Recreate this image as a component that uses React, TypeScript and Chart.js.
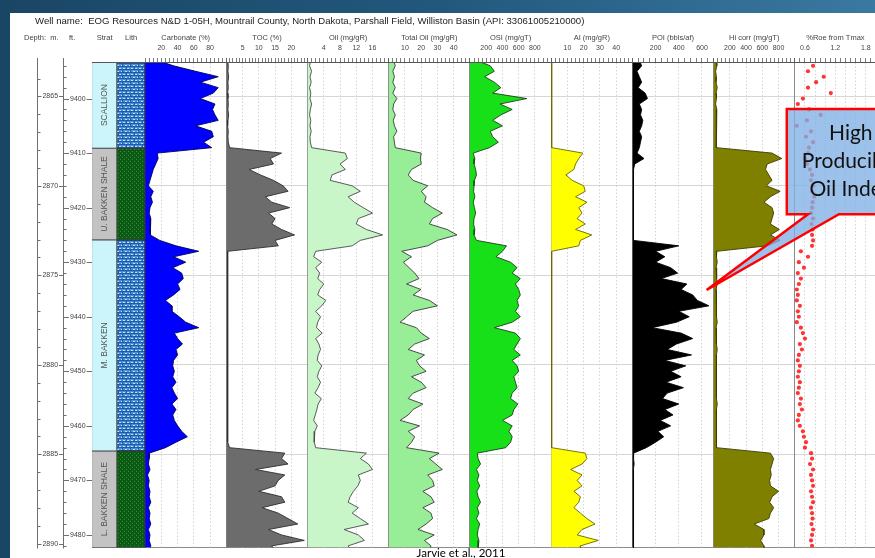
import React, { useEffect, useRef } from "react";
import { Chart, registerables } from "chart.js";

Chart.register(...registerables);

const FONT = '"Liberation Sans", Arial, Helvetica, sans-serif';
const CALLOUT_FONT = 'Lato, "Open Sans", sans-serif';

// ---------------- data ----------------
const DEPTH_TOP_FT = 9393.3;
const DEPTH_BASE_FT = 9482.3;
const FT_PER_M = 3.28084;

const depthsFt = [
  9393, 9394, 9395, 9396, 9397, 9398, 9399, 9400, 9401, 9402,
  9403, 9404, 9405, 9406, 9407, 9408, 9409, 9410, 9411, 9412,
  9413, 9414, 9415, 9416, 9417, 9418, 9419, 9420, 9421, 9422,
  9423, 9424, 9425, 9426, 9427, 9428, 9429, 9430, 9431, 9432,
  9433, 9434, 9435, 9436, 9437, 9438, 9439, 9440, 9441, 9442,
  9443, 9444, 9445, 9446, 9447, 9448, 9449, 9450, 9451, 9452,
  9453, 9454, 9455, 9456, 9457, 9458, 9459, 9460, 9461, 9462,
  9463, 9464, 9465, 9466, 9467, 9468, 9469, 9470, 9471, 9472,
  9473, 9474, 9475, 9476, 9477, 9478, 9479, 9480, 9481, 9482, 9483,
];

const carbonatePct = [
  15, 35, 62, 90, 68, 90, 84, 68, 86, 83,
  86, 90, 62, 82, 84, 72, 82, 15, 16, 13,
  10, 8, 6, 4, 10, 7, 9, 6, 5, 7,
  6, 6, 7, 18, 38, 66, 35, 50, 34, 45,
  47, 40, 43, 35, 25, 33, 33, 42, 50, 66,
  36, 40, 46, 38, 40, 35, 34, 36, 34, 38,
  33, 36, 40, 33, 38, 34, 36, 40, 45, 52,
  38, 25, 5, 5, 4, 6, 3, 5, 4, 6,
  5, 7, 4, 6, 5, 7, 4, 6, 5, 7, 5,
];

const tocPct = [
  0.4, 0.6, 0.5, 0.7, 0.5, 0.6, 0.4, 0.5, 0.6, 0.5,
  0.7, 0.5, 0.4, 0.6, 0.5, 0.6, 1, 17, 13.5, 14.5,
  7, 10.5, 14.5, 17.5, 19, 12, 14, 19.5, 13, 15,
  14, 17, 21, 15, 16, 0.4, 0.5, 0.3, 0.5, 0.4,
  0.5, 0.3, 0.4, 0.5, 0.4, 0.3, 0.5, 0.4, 0.3, 0.4,
  0.5, 0.4, 0.3, 0.4, 0.5, 0.3, 0.4, 0.5, 0.4, 0.3,
  0.4, 0.5, 0.3, 0.4, 0.5, 0.4, 0.3, 0.4, 0.5, 0.4,
  0.5, 1, 18, 17, 19, 9, 18, 16, 15, 10,
  17, 18, 11, 16, 19, 22, 13, 17, 24, 14, 15,
];

const oilMgGR = [
  0.8, 0.5, 1.0, 0.6, 0.9, 0.5, 0.8, 0.6, 1.0, 0.7,
  0.5, 0.8, 0.6, 0.9, 0.6, 0.7, 1.0, 9.3, 9.8, 8,
  9.3, 6, 5.6, 11, 13, 10, 11.5, 13.7, 16, 12.5,
  12, 14.5, 18.5, 13, 11, 2.0, 1.5, 3.5, 2, 3,
  2.5, 4, 3, 2.5, 4.5, 3.5, 2, 3.2, 2.5, 2.2,
  3.6, 2.0, 2.8, 3.2, 2.6, 2.4, 3.5, 2.8, 2.4, 3.2,
  2.6, 1.8, 3.4, 2.6, 2.3, 1.9, 1.5, 2.4, 1.8, 1.6,
  1.7, 2.0, 14.5, 13, 15, 16, 12.5, 13, 12.4, 11.3,
  10.5, 10, 12.5, 11, 13, 15, 9, 12.5, 14, 10, 11,
];

const totalOilMgGR = [
  3, 4, 2.5, 3.5, 2.5, 4, 2.5, 5, 3, 2.5,
  4, 2.8, 3.5, 5, 3, 3.5, 4, 20, 19.5, 20,
  14, 12, 15, 24, 20, 23, 22, 27, 33, 27,
  25, 36, 42, 30, 24, 8, 14, 9, 12.5, 16,
  18.6, 11, 19.8, 15, 25, 30, 15, 11, 7, 17,
  20, 25, 16, 12, 22, 17, 19, 23, 14, 20,
  23, 15, 12, 21, 15, 12, 7, 19, 12, 16,
  14, 11, 31, 25, 29, 33, 24, 27, 28, 21,
  26, 28, 21, 26, 27, 23, 18, 28, 22, 26, 25,
];

const osiMgGT = [
  80, 250, 300, 180, 300, 380, 280, 700, 370, 520,
  380, 280, 400, 250, 280, 350, 240, 40, 60, 50,
  70, 80, 55, 50, 45, 60, 40, 55, 70, 50,
  45, 60, 50, 80, 450, 400, 320, 500, 580, 520,
  620, 560, 600, 620, 580, 600, 560, 620, 520, 300,
  560, 620, 580, 540, 620, 520, 580, 600, 540, 560,
  580, 520, 500, 590, 540, 520, 400, 520, 480, 520,
  500, 440, 90, 100, 130, 80, 110, 90, 120, 85,
  100, 130, 90, 110, 80, 120, 100, 90, 110, 100, 100,
];

const aiMgGR = [
  0.3, 0.3, 0.3, 0.3, 0.3, 0.3, 0.3, 0.3, 0.3, 0.3,
  0.3, 0.3, 0.3, 0.3, 0.3, 0.3, 0.5, 19.5, 17, 15,
  14, 9, 13, 20, 21, 15, 22, 17, 19, 16,
  21, 15, 25, 18, 17, 0.3, 0.3, 0.3, 0.3, 0.3,
  0.3, 0.3, 0.3, 0.3, 0.3, 0.3, 0.3, 0.3, 0.3, 0.3,
  0.3, 0.3, 0.3, 0.3, 0.3, 0.3, 0.3, 0.3, 0.3, 0.3,
  0.3, 0.3, 0.3, 0.3, 0.3, 0.3, 0.3, 0.3, 0.3, 0.3,
  0.3, 0.5, 21, 22, 19, 12, 19, 16, 19, 14,
  18, 17, 14, 18, 22, 27, 19, 16, 29, 18, 18,
];

const poiBblsAf = [
  60, 80, 40, 60, 80, 50, 110, 130, 60, 80,
  70, 90, 80, 60, 80, 70, 60, 40, 100, 20,
  10, 10, 8, 12, 10, 8, 10, 12, 8, 10,
  8, 10, 8, 10, 400, 200, 280, 200, 330, 390,
  250, 470, 420, 520, 560, 660, 400, 490, 380, 170,
  420, 520, 380, 300, 510, 280, 460, 330, 420, 290,
  440, 300, 260, 400, 280, 350, 240, 330, 220, 270,
  200, 120, 10, 10, 15, 8, 12, 10, 8, 12,
  10, 8, 12, 10, 8, 10, 12, 8, 10, 8, 10,
];

const hiCorrMgGT = [
  30, 40, 25, 35, 30, 45, 30, 35, 25, 40,
  30, 35, 40, 30, 35, 30, 40, 720, 840, 660,
  640, 680, 720, 650, 820, 700, 620, 720, 740, 720,
  700, 810, 700, 820, 660, 40, 35, 45, 30, 40,
  35, 45, 30, 40, 35, 30, 40, 35, 45, 30,
  40, 35, 30, 45, 35, 40, 30, 35, 40, 30,
  35, 40, 30, 45, 35, 40, 30, 35, 40, 35,
  30, 40, 700, 740, 720, 700, 710, 690, 700, 800,
  720, 690, 740, 700, 680, 500, 620, 620, 580, 620, 620,
];

const roeFromTmax = [
  0.78, 0.76, 0.66, 0.97, 0.82, 0.66, 1.11, 0.56, 0.46, 0.68,
  0.91, 0.64, 0.44, 0.72, 0.62, 0.76, 0.68, 0.66, 0.60, 0.64,
  0.70, 0.74, 0.72, 0.76, 0.74, 0.78, 0.75, 0.74, 0.72, 0.76,
  0.73, 0.75, 0.74, 0.76, 0.74, 0.52, 0.66, 0.48, 0.58, 0.46,
  0.52, 0.48, 0.44, 0.46, 0.44, 0.50, 0.46, 0.48, 0.44, 0.52,
  0.56, 0.60, 0.50, 0.54, 0.48, 0.46, 0.50, 0.48, 0.46, 0.50,
  0.48, 0.46, 0.52, 0.50, 0.54, 0.48, 0.46, 0.50, 0.56, 0.58,
  0.62, 0.60, 0.72, 0.74, 0.70, 0.76, 0.72, 0.74, 0.76, 0.72,
  0.74, 0.76, 0.72, 0.74, 0.75, 0.73, 0.76, 0.74, 0.72, 0.74, 0.73,
];

const stratNames = ["SCALLION", "U. BAKKEN SHALE", "M. BAKKEN", "L. BAKKEN SHALE"];
const stratTopsFt = [9393.3, 9409.1, 9425.9, 9464.6];
const stratBasesFt = [9409.1, 9425.9, 9464.6, 9482.3];
const lithTypes = ["carbonate", "shale", "carbonate", "shale"];

const meterLabels = [2865, 2870, 2875, 2880, 2885, 2890];
const footLabels = [9400, 9410, 9420, 9430, 9440, 9450, 9460, 9470, 9480];

const carbonateTicks = [20, 40, 60, 80];
const tocTicks = [5, 10, 15, 20];
const oilTicks = [4, 8, 12, 16];
const totalOilTicks = [10, 20, 30, 40];
const osiTicks = [200, 400, 600, 800];
const aiTicks = [10, 20, 30, 40];
const poiTicks = [200, 400, 600];
const hiCorrTicks = [200, 400, 600, 800];
const roeTicks = [0.6, 1.2, 1.8];

const wellTitle =
  "Well name:  EOG Resources N&D 1-05H, Mountrail County, North Dakota, Parshall Field, Williston Basin (API: 33061005210000)";
const depthHeader = "Depth:  m.     ft.";
const calloutLines = ["High", "Producible", "Oil Index"];
const calloutTipPoi = 640;
const calloutTipDepth = 9435.1;
const calloutBoxDepths = [9401.9, 9421.2];
const calloutBaseRoe = [0.66, 1.27];
const citation = "Jarvie et al., 2011";

// ---------------- track table ----------------
type Track = {
  id: string; title: string; min: number; max: number; minor: number; grid: number;
  labels: number[]; values: number[]; fill: string; line: string; points?: boolean;
};

const tracks: Track[] = [
  { id: "carb", title: "Carbonate (%)", min: 0, max: 100, minor: 5, grid: 20, labels: carbonateTicks, values: carbonatePct, fill: "#0000ff", line: "#00005a" },
  { id: "toc", title: "TOC (%)", min: 0, max: 25, minor: 1, grid: 5, labels: tocTicks, values: tocPct, fill: "#6c6c6c", line: "#2e2e2e" },
  { id: "oil", title: "Oil (mg/gR)", min: 0, max: 20, minor: 1, grid: 4, labels: oilTicks, values: oilMgGR, fill: "#c9f6c9", line: "#4a4a4a" },
  { id: "toil", title: "Total Oil (mg/gR)", min: 0, max: 50, minor: 2.5, grid: 10, labels: totalOilTicks, values: totalOilMgGR, fill: "#97ee97", line: "#3a3a3a" },
  { id: "osi", title: "OSI (mg/gT)", min: 0, max: 1000, minor: 50, grid: 200, labels: osiTicks, values: osiMgGT, fill: "#18e018", line: "#1e3e1e" },
  { id: "ai", title: "AI (mg/gR)", min: 0, max: 50, minor: 2.5, grid: 10, labels: aiTicks, values: aiMgGR, fill: "#ffff00", line: "#666600" },
  { id: "poi", title: "POI (bbls/af)", min: 0, max: 700, minor: 50, grid: 200, labels: poiTicks, values: poiBblsAf, fill: "#000000", line: "#000000" },
  { id: "hic", title: "Hi corr (mg/gT)", min: 0, max: 1000, minor: 50, grid: 200, labels: hiCorrTicks, values: hiCorrMgGT, fill: "#808000", line: "#3c3c00" },
  { id: "roe", title: "%Roe from Tmax", min: 0.4, max: 2.0, minor: 0.1, grid: 0.2, labels: roeTicks, values: roeFromTmax, fill: "rgba(0,0,0,0)", line: "#ff3434", points: true },
];

const CANVAS_W = 870;
const CANVAS_H = 545;
const HEADER_H = 29;
const TRACK_W = 81.11;
const near = (a: number, b: number) => Math.abs(a - b) < 1e-6;

function fixHeader(s: any) {
  s.height = HEADER_H;
  s.paddingLeft = 0;
  s.paddingRight = 0;
}

function trackScale(t: Track) {
  const isEdge = (v: number) => near(v, t.min) || near(v, t.max);
  const isGrid = (v: number) => {
    const k = v / t.grid;
    return near(k, Math.round(k));
  };
  return {
    type: "linear",
    axis: "x",
    position: "top",
    stack: "cols",
    stackWeight: TRACK_W,
    min: t.min,
    max: t.max,
    afterBuildTicks: (s: any) => {
      const n = Math.round((t.max - t.min) / t.minor);
      const arr: { value: number }[] = [];
      for (let i = 0; i <= n; i++) arr.push({ value: +(t.min + i * t.minor).toFixed(4) });
      s.ticks = arr;
    },
    afterFit: fixHeader,
    ticks: {
      autoSkip: false,
      maxRotation: 0,
      minRotation: 0,
      padding: 6,
      color: "#444",
      font: { family: FONT, size: 7 },
      callback: (v: number) => (t.labels.some((l) => near(l, v)) ? String(v) : ""),
    },
    grid: {
      color: (c: any) => {
        const v = c.tick ? c.tick.value : NaN;
        if (isEdge(v)) return "#8a8a8a";
        if (isGrid(v)) return "#d4d4d4";
        return "rgba(0,0,0,0)";
      },
      lineWidth: 1,
      tickColor: "#5a5a5a",
      tickLength: 4,
      tickWidth: 0.8,
    },
    border: {
      display: true,
      color: "#555",
      width: 1,
      z: 1,
      dash: (c: any) => (c.tick && !isEdge(c.tick.value) ? [1.5, 2] : []),
    },
    title: {
      display: true,
      text: t.title,
      color: "#444",
      font: { family: FONT, size: 7.5 },
      padding: { top: 0, bottom: 0 },
    },
  };
}

function columnScale(title: string, weight: number, edges: boolean) {
  return {
    type: "linear",
    axis: "x",
    position: "top",
    stack: "cols",
    stackWeight: weight,
    min: 0,
    max: 1,
    afterBuildTicks: (s: any) => {
      s.ticks = [{ value: 0 }, { value: 1 }];
    },
    afterFit: fixHeader,
    ticks: { display: false },
    grid: { display: edges, color: "#555", drawTicks: false },
    border: { display: edges, color: "#555", z: 1 },
    title: {
      display: title.length > 0,
      text: title,
      color: "#444",
      font: { family: FONT, size: 7.5 },
      padding: { top: 0, bottom: 0 },
    },
  };
}

function makeCarbonatePattern(ctx: CanvasRenderingContext2D) {
  const c = document.createElement("canvas");
  c.width = 8;
  c.height = 6;
  const g = c.getContext("2d")!;
  g.fillStyle = "#4690da";
  g.fillRect(0, 0, 8, 6);
  g.fillStyle = "#b8e4fb";
  g.fillRect(1, 1, 2, 1);
  g.fillRect(5, 1, 2, 1);
  g.fillRect(3, 4, 2, 1);
  g.fillRect(0, 4, 1, 1);
  g.fillRect(7, 4, 1, 1);
  g.fillStyle = "#2258a4";
  g.fillRect(0, 2, 8, 1);
  g.fillRect(0, 5, 8, 1);
  g.fillRect(4, 0, 1, 2);
  g.fillRect(0, 3, 1, 2);
  return ctx.createPattern(c, "repeat");
}

function makeShalePattern(ctx: CanvasRenderingContext2D) {
  const c = document.createElement("canvas");
  c.width = 4;
  c.height = 4;
  const g = c.getContext("2d")!;
  g.fillStyle = "#0b5a13";
  g.fillRect(0, 0, 4, 4);
  g.fillStyle = "#3a8a42";
  g.fillRect(0, 0, 1, 1);
  g.fillRect(2, 2, 1, 1);
  return ctx.createPattern(c, "repeat");
}

const wellLogPlugin = {
  id: "wellLog",
  beforeDatasetsDraw(chart: any) {
    const { ctx, chartArea: area, scales } = chart;
    const y = scales.y;
    ctx.save();
    ctx.fillStyle = "#fff";
    ctx.fillRect(scales.m.left - 1, area.top, scales.ft.right - scales.m.left + 1, area.bottom - area.top + 2);

    const ruler = (sc: any, labels: number[], toFt: (v: number) => number, fromFt: (v: number) => number, step: number) => {
      const x0 = Math.round(sc.left) + 0.5;
      const x1 = sc.right;
      ctx.strokeStyle = "#707070";
      ctx.lineWidth = 1;
      ctx.beginPath();
      ctx.moveTo(x0, area.top - 4);
      ctx.lineTo(x0, area.bottom + 1);
      ctx.stroke();
      const lo = Math.ceil(fromFt(y.min) / step) * step;
      const hi = fromFt(y.max);
      ctx.beginPath();
      for (let v = lo; v <= hi + 1e-9; v += step) {
        const py = Math.round(y.getPixelForValue(toFt(v))) + 0.5;
        ctx.moveTo(x0, py);
        ctx.lineTo(x0 + 3, py);
      }
      ctx.stroke();
      ctx.font = `7px ${FONT}`;
      ctx.textAlign = "center";
      ctx.textBaseline = "middle";
      labels.forEach((v) => {
        const py = Math.round(y.getPixelForValue(toFt(v))) + 0.5;
        ctx.strokeStyle = "#707070";
        ctx.beginPath();
        ctx.moveTo(x0, py);
        ctx.lineTo(x1, py);
        ctx.stroke();
        const txt = String(v);
        const w = ctx.measureText(txt).width;
        const cx = (x0 + x1) / 2;
        ctx.fillStyle = "#fff";
        ctx.fillRect(cx - w / 2 - 1, py - 4, w + 2, 8);
        ctx.fillStyle = "#444";
        ctx.fillText(txt, cx, py);
      });
    };
    ruler(scales.m, meterLabels, (v) => v * FT_PER_M, (v) => v / FT_PER_M, 1);
    ruler(scales.ft, footLabels, (v) => v, (v) => v, 2);
    ctx.restore();
  },
  afterDatasetsDraw(chart: any) {
    const { ctx, scales } = chart;
    const y = scales.y;
    const s = scales.strat;
    ctx.save();
    ctx.font = `8.5px ${FONT}`;
    ctx.fillStyle = "#555";
    ctx.textAlign = "center";
    ctx.textBaseline = "middle";
    stratNames.forEach((name, i) => {
      const cy = (y.getPixelForValue(stratTopsFt[i]) + y.getPixelForValue(stratBasesFt[i])) / 2;
      const cx = (s.left + s.right) / 2;
      ctx.save();
      ctx.translate(cx, cy);
      ctx.rotate(-Math.PI / 2);
      ctx.fillText(name, 0, 0);
      ctx.restore();
    });
    ctx.restore();
  },
  afterDraw(chart: any) {
    const { ctx, scales, chartArea } = chart;
    const y = scales.y;
    const poi = scales.poi;
    const roe = scales.roe;
    const tipX = poi.getPixelForValue(calloutTipPoi);
    const tipY = y.getPixelForValue(calloutTipDepth);
    const top = y.getPixelForValue(calloutBoxDepths[0]);
    const bottom = y.getPixelForValue(calloutBoxDepths[1]);
    const left = roe.left - 8;
    const right = left + 128;
    const b0 = roe.getPixelForValue(calloutBaseRoe[0]);
    const b1 = roe.getPixelForValue(calloutBaseRoe[1]);
    ctx.save();
    ctx.beginPath();
    ctx.moveTo(left, top);
    ctx.lineTo(right, top);
    ctx.lineTo(right, bottom);
    ctx.lineTo(b1, bottom);
    ctx.lineTo(tipX, tipY);
    ctx.lineTo(b0, bottom);
    ctx.lineTo(left, bottom);
    ctx.closePath();
    ctx.fillStyle = "rgba(128,176,228,0.78)";
    ctx.fill();
    ctx.lineWidth = 2.5;
    ctx.strokeStyle = "#ff0000";
    ctx.lineJoin = "miter";
    ctx.stroke();
    ctx.fillStyle = "#111";
    ctx.font = `21px ${CALLOUT_FONT}`;
    ctx.textAlign = "center";
    ctx.textBaseline = "alphabetic";
    const cx = (left + right) / 2;
    calloutLines.forEach((line, i) => ctx.fillText(line, cx, top + 31 + i * 28));

    ctx.font = `11.5px ${CALLOUT_FONT}`;
    ctx.fillStyle = "#000";
    ctx.fillText(citation, scales.osi.left - 9, chartArea.bottom + 9);
    ctx.restore();
  },
};

export default function App() {
  const canvasRef = useRef<HTMLCanvasElement | null>(null);

  useEffect(() => {
    const canvas = canvasRef.current;
    if (!canvas) return;
    const c2d = canvas.getContext("2d")!;
    const carbPat = makeCarbonatePattern(c2d);
    const shalePat = makeShalePattern(c2d);

    const rect = (i: number) => [
      { x: 0, y: stratTopsFt[i] },
      { x: 1, y: stratTopsFt[i] },
      { x: 1, y: stratBasesFt[i] },
      { x: 0, y: stratBasesFt[i] },
    ];

    const datasets: any[] = [];
    stratNames.forEach((name, i) => {
      datasets.push({
        label: name,
        xAxisID: "strat",
        yAxisID: "y",
        data: rect(i),
        fill: "origin",
        backgroundColor: lithTypes[i] === "shale" ? "#c3c3c3" : "#cbf5fa",
        borderColor: "#555",
        borderWidth: 1,
        pointRadius: 0,
        clip: 0,
      });
      datasets.push({
        label: name + " lithology",
        xAxisID: "lith",
        yAxisID: "y",
        data: rect(i),
        fill: "origin",
        backgroundColor: lithTypes[i] === "shale" ? shalePat : carbPat,
        borderColor: "#333",
        borderWidth: 1,
        pointRadius: 0,
        clip: 0,
      });
    });

    tracks.forEach((t) => {
      const data = depthsFt.map((d, i) => ({ x: t.values[i], y: d }));
      if (t.points) {
        datasets.push({
          label: t.title,
          xAxisID: t.id,
          yAxisID: "y",
          data,
          showLine: false,
          pointRadius: 2.1,
          pointBackgroundColor: t.line,
          pointBorderWidth: 0,
          borderColor: t.line,
          clip: 0,
        });
      } else {
        datasets.push({
          label: t.title,
          xAxisID: t.id,
          yAxisID: "y",
          data,
          fill: "origin",
          backgroundColor: t.fill,
          borderColor: t.line,
          borderWidth: 0.9,
          borderJoinStyle: "round",
          pointRadius: 0,
          tension: 0,
          clip: 0,
        });
      }
    });

    // top boxes of one stack are laid out right-to-left in declaration order,
    // so the columns are declared from the right-most track to the depth column
    const scales: any = {
      y: {
        type: "linear",
        position: "left",
        reverse: true,
        min: DEPTH_TOP_FT,
        max: DEPTH_BASE_FT,
        afterBuildTicks: (s: any) => {
          const arr = meterLabels
            .map((m) => m * FT_PER_M)
            .filter((v) => v < DEPTH_BASE_FT - 1)
            .map((v) => ({ value: v }));
          arr.push({ value: DEPTH_BASE_FT });
          s.ticks = arr;
        },
        afterFit: (s: any) => {
          s.width = 0;
        },
        ticks: { display: false },
        grid: {
          color: (c: any) => (c.tick && near(c.tick.value, DEPTH_BASE_FT) ? "#8a8a8a" : "#d6d6d6"),
          drawTicks: false,
        },
        border: { display: false },
      },
    };
    [...tracks].reverse().forEach((t) => {
      scales[t.id] = trackScale(t);
    });
    scales.lith = columnScale("Lith", 28, true);
    scales.strat = columnScale("Strat", 25, true);
    scales.ft = columnScale("", 29, false);
    scales.m = columnScale("", 26, false);

    const chart = new Chart(canvas, {
      type: "line",
      data: { datasets },
      options: {
        animation: false,
        responsive: false,
        devicePixelRatio: 1,
        indexAxis: "y",
        events: [],
        layout: { padding: { left: 27, right: 0, top: 20, bottom: 10.5 } },
        plugins: {
          legend: { display: false },
          tooltip: { enabled: false },
          title: { display: false },
        },
        scales,
      } as any,
      plugins: [wellLogPlugin],
    } as any);

    return () => chart.destroy();
  }, []);

  return (
    <div
      style={{
        position: "fixed",
        left: 0,
        top: 0,
        width: 875,
        height: 558,
        overflow: "hidden",
        background: "linear-gradient(90deg, #1a4665 0%, #22587c 50%, #3a79a2 100%)",
      }}
    >
      <div style={{ position: "absolute", left: 10, top: 13, width: 865, height: 545, background: "#fff" }}>
        <canvas
          ref={canvasRef}
          width={CANVAS_W}
          height={CANVAS_H}
          style={{ position: "absolute", left: 0, top: 0, width: CANVAS_W, height: CANVAS_H }}
        />
        <div
          style={{
            position: "absolute",
            left: 25,
            top: 2,
            fontFamily: FONT,
            fontSize: 9.6,
            color: "#222",
            whiteSpace: "pre",
            lineHeight: "12px",
          }}
        >
          {wellTitle}
        </div>
        <div
          style={{
            position: "absolute",
            left: 14,
            top: 20,
            fontFamily: FONT,
            fontSize: 7.5,
            color: "#444",
            whiteSpace: "pre",
            lineHeight: "9px",
          }}
        >
          {depthHeader}
        </div>
      </div>
    </div>
  );
}
